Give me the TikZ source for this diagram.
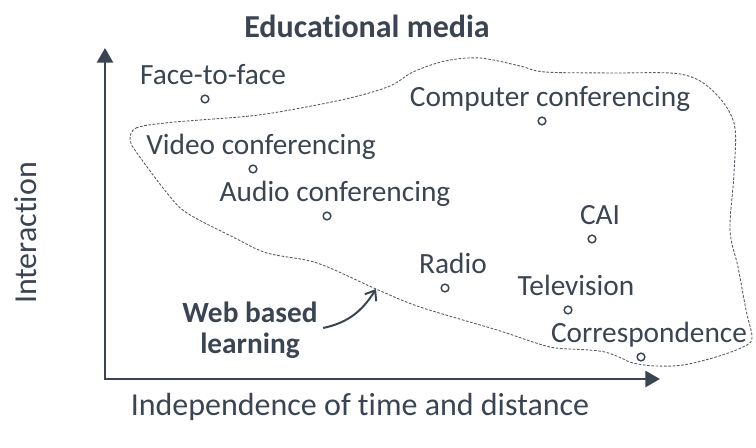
\documentclass[tikz,border=0pt]{standalone}
\usepackage{fontspec}
\setmainfont{Carlito}[Ligatures=NoCommon]
\usetikzlibrary{arrows.meta, positioning}
\definecolor{slateInk}{HTML}{3B4452}
\definecolor{blobGray}{HTML}{555A62}

\begin{document}
\begin{tikzpicture}[
    x=0.75pt, y=0.75pt,
    every node/.style={text=slateInk},
    axisLine/.style={draw=slateInk, line width=2pt, line join=miter, {Triangle[length=11pt, width=12pt]}-{Triangle[length=11pt, width=12pt]}},
    mediaDot/.style={circle, draw=slateInk, line width=1.1pt, minimum size=5.8pt, inner sep=0pt},
    mediaTag/.style={anchor=base, inner sep=0pt, font=\fontsize{22}{26}\selectfont},
    axisTag/.style={anchor=base, inner sep=0pt, font=\fontsize{24}{28}\selectfont},
    blobLine/.style={draw=blobGray, line width=0.65pt, dash pattern=on 2pt off 1.2pt},
    webArrow/.style={draw=slateInk, line width=1.5pt, -{Straight Barb[length=6.5pt, width=10pt]}}
]
\useasboundingbox (0,0) rectangle (756,447);

% axes
\coordinate (origin) at (105,68);
\coordinate (yTip) at (105,399);
\coordinate (xTip) at (660,68);
\draw[axisLine] (yTip) -- (origin) -- (xTip);

\node[axisTag, font=\bfseries\fontsize{24}{28}\selectfont] (title) at (367,409) {Educational media};
\node[axisTag, rotate=90] (yLabel) at (36,214) {Interaction};
\node[axisTag] (xLabel) at (360,32) {Independence of time and distance};

% web based learning region
\draw[blobLine] plot[smooth cycle, tension=0.55] coordinates {
    (130,307) (136,319) (165,324) (200,327) (250,331) (290,337) (350,349)
    (390,361) (413,375) (445,386) (480,389) (520,381) (545,375) (610,374)
    (680,373) (712,357) (734,324) (734,274) (730,217) (738,180) (746,137)
    (752,109) (743,100) (716,90) (683,82) (656,81) (633,84) (619,90)
    (605,95) (589,97) (556,99) (536,104) (497,117) (420,140) (376,158)
    (317,184) (267,194) (233,210) (187,234) (167,254) (137,294)};

% media
\node[mediaDot] (f2f) at (205,348) {};
\node[mediaDot] (computer) at (542,326) {};
\node[mediaDot] (video) at (253,278) {};
\node[mediaDot] (audio) at (327,231) {};
\node[mediaDot] (cai) at (592,208) {};
\node[mediaDot] (radio) at (445,159) {};
\node[mediaDot] (tv) at (568,137) {};
\node[mediaDot] (corr) at (641,90) {};

\node[mediaTag] (f2fTag) at ([shift={(8,14.5)}]f2f) {Face-to-face};
\node[mediaTag] (computerTag) at ([shift={(8,14.5)}]computer) {Computer conferencing};
\node[mediaTag] (videoTag) at ([shift={(8,14.5)}]video) {Video conferencing};
\node[mediaTag] (audioTag) at ([shift={(8,14.5)}]audio) {Audio conferencing};
\node[mediaTag] (caiTag) at ([shift={(8,14.5)}]cai) {CAI};
\node[mediaTag] (radioTag) at ([shift={(8,14.5)}]radio) {Radio};
\node[mediaTag] (tvTag) at ([shift={(8,14.5)}]tv) {Television};
\node[mediaTag] (corrTag) at ([shift={(8,14.5)}]corr) {Correspondence};

% pointer to the region
\node[align=center, inner sep=0pt, font=\bfseries\fontsize{22}{23.25}\selectfont] (webTag) at (250,117) {Web based\\learning};
\coordinate (webTip) at (376,158);
\draw[webArrow] ([xshift=4pt, yshift=1.5pt]webTag.east) to[out=12, in=238] (webTip);
\end{tikzpicture}
\end{document}
